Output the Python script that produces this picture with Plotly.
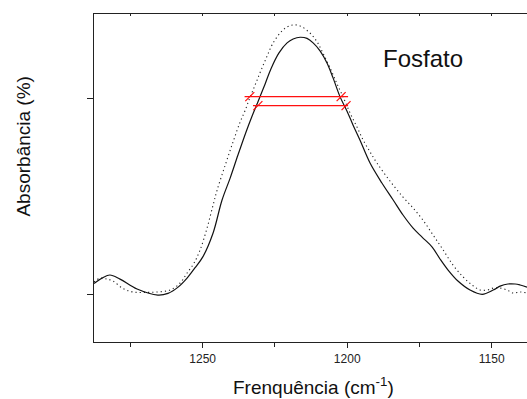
import plotly.graph_objects as go

# Phosphate band, two spectra (cm-1, normalised absorbance)
wn_solid = [1287.6, 1284.8, 1282.1, 1278.6, 1272.7, 1265.5, 1262.0, 1258.5, 1255.4, 1252.7,
            1249.9, 1246.4, 1243.3, 1240.5, 1237.8, 1235.0, 1232.9, 1230.9, 1228.4, 1226.4,
            1223.6, 1220.8, 1218.7, 1216.3, 1213.9, 1211.8, 1209.4, 1207.0, 1204.9, 1202.5,
            1200.1, 1198.0, 1195.6, 1192.1, 1188.0, 1184.1, 1180.7, 1177.2, 1174.1, 1170.6,
            1167.9, 1165.1, 1161.7, 1157.5, 1153.3, 1149.5, 1147.1, 1144.4, 1141.9, 1140.2,
            1137.8]
abs_solid = [0.056, 0.083, 0.099, 0.078, 0.027, -0.004, 0.005, 0.037, 0.083, 0.135,
             0.193, 0.314, 0.483, 0.595, 0.713, 0.831, 0.913, 0.985, 1.077, 1.154,
             1.236, 1.287, 1.307, 1.316, 1.310, 1.287, 1.246, 1.184, 1.108, 1.012,
             0.939, 0.867, 0.790, 0.672, 0.570, 0.483, 0.406, 0.339, 0.293, 0.242,
             0.181, 0.124, 0.068, 0.022, 0.000, 0.022, 0.042, 0.053, 0.053, 0.048,
             0.037]

wn_dot = [1287.6, 1285.5, 1283.1, 1281.0, 1277.6, 1274.1, 1270.0, 1265.8, 1261.3, 1257.8,
          1255.4, 1253.0, 1250.9, 1248.5, 1246.4, 1245.0, 1242.3, 1239.5, 1237.1, 1235.3,
          1234.0, 1232.6, 1231.2, 1229.5, 1227.7, 1226.0, 1223.2, 1220.8, 1218.7, 1216.3,
          1212.9, 1210.4, 1208.4, 1205.6, 1203.5, 1201.4, 1199.0, 1196.6, 1194.5, 1192.1,
          1189.7, 1185.2, 1180.7, 1177.2, 1173.8, 1170.3, 1166.8, 1163.4, 1159.9, 1156.8,
          1154.0, 1151.6, 1149.5, 1147.1, 1144.7, 1142.6, 1140.2, 1137.8]
abs_dot = [0.063, 0.083, 0.078, 0.068, 0.030, 0.012, 0.010, 0.012, 0.022, 0.058,
           0.109, 0.160, 0.227, 0.339, 0.457, 0.534, 0.657, 0.780, 0.880, 0.942,
           0.994, 1.045, 1.096, 1.158, 1.220, 1.277, 1.338, 1.369, 1.379, 1.374,
           1.338, 1.292, 1.235, 1.148, 1.077, 1.010, 0.928, 0.856, 0.790, 0.729,
           0.672, 0.580, 0.498, 0.442, 0.380, 0.304, 0.227, 0.150, 0.089, 0.048,
           0.022, 0.022, 0.032, 0.032, 0.022, 0.007, 0.012, 0.007]

# Band-width markers: [start, end] wavenumbers and level for each
width_upper_wn = [1235.5, 1199.7]
width_upper_y = 1.012
width_upper_marks = [1233.7, 1202.1]
width_lower_wn = [1232.6, 1199.7]
width_lower_y = 0.966
width_lower_marks = [1230.9, 1200.4]

x_range = [1287.6, 1137.8]
y_range = [-0.244, 1.435]
y_ticks = [0, 1]

AXIS = "#222222"
FONT = "Liberation Sans, Arial, sans-serif"

fig = go.Figure()
fig.add_trace(go.Scatter(x=wn_dot, y=abs_dot, mode="lines",
                         line=dict(color="#222222", width=1.1, dash="1.2px,3px", shape="spline"),
                         showlegend=False, hoverinfo="skip"))
fig.add_trace(go.Scatter(x=wn_solid, y=abs_solid, mode="lines",
                         line=dict(color="#111111", width=1.2, shape="spline"),
                         showlegend=False, hoverinfo="skip"))

for wn, lvl, marks in [(width_upper_wn, width_upper_y, width_upper_marks),
                       (width_lower_wn, width_lower_y, width_lower_marks)]:
    fig.add_trace(go.Scatter(x=wn, y=[lvl, lvl], mode="lines",
                             line=dict(color="#ff1010", width=1.2),
                             showlegend=False, hoverinfo="skip"))
    fig.add_trace(go.Scatter(x=marks, y=[lvl, lvl], mode="markers",
                             marker=dict(symbol="line-ne", size=9,
                                         line=dict(color="#ff1010", width=1.2)),
                             showlegend=False, hoverinfo="skip"))

# invisible trace so the top axis is drawn
fig.add_trace(go.Scatter(x=[x_range[0]], y=[0], xaxis="x2", mode="markers",
                         marker=dict(opacity=0), showlegend=False, hoverinfo="skip"))

fig.update_layout(
    width=527, height=399,
    margin=dict(l=94, r=0, t=14, b=57),
    paper_bgcolor="white", plot_bgcolor="white",
    font=dict(family=FONT, color=AXIS),
    xaxis=dict(range=x_range, showgrid=False, zeroline=False,
               showline=True, linecolor=AXIS, linewidth=1.3,
               ticks="outside", ticklen=5, tickwidth=1.2, tickcolor=AXIS,
               tick0=1150, dtick=50, tickfont=dict(size=12, family=FONT, color=AXIS),
               minor=dict(ticks="outside", ticklen=4, tickwidth=1.2, tickcolor=AXIS,
                          tick0=1150, dtick=25)),
    xaxis2=dict(range=x_range, overlaying="x", side="top", showgrid=False,
                zeroline=False, showline=True, linecolor=AXIS, linewidth=1.3,
                ticks="inside", ticklen=2, tickwidth=1, tickcolor=AXIS,
                tick0=1150, dtick=25, showticklabels=False),
    yaxis=dict(range=y_range, showgrid=False, zeroline=False,
               showline=True, linecolor=AXIS, linewidth=1.3,
               ticks="outside", ticklen=6, tickwidth=1.2, tickcolor=AXIS,
               tickmode="array", tickvals=y_ticks, showticklabels=False),
    annotations=[
        dict(text="Fosfato", xref="paper", yref="paper", x=0.7605, y=0.863,
             xanchor="center", yanchor="middle", showarrow=False,
             font=dict(size=24, family=FONT, color="#111111")),
        dict(text="Frenquência (cm<sup>-1</sup>)", xref="paper", yref="paper",
             x=0.506, y=-0.134, xanchor="center", yanchor="middle", showarrow=False,
             font=dict(size=19, family=FONT, color="#111111")),
        dict(text="Absorbância (%)", xref="paper", yref="paper",
             x=-0.165, y=0.5945, xanchor="center", yanchor="middle",
             textangle=-90, showarrow=False,
             font=dict(size=19, family=FONT, color="#111111")),
    ],
)

fig.write_html("out.html")
